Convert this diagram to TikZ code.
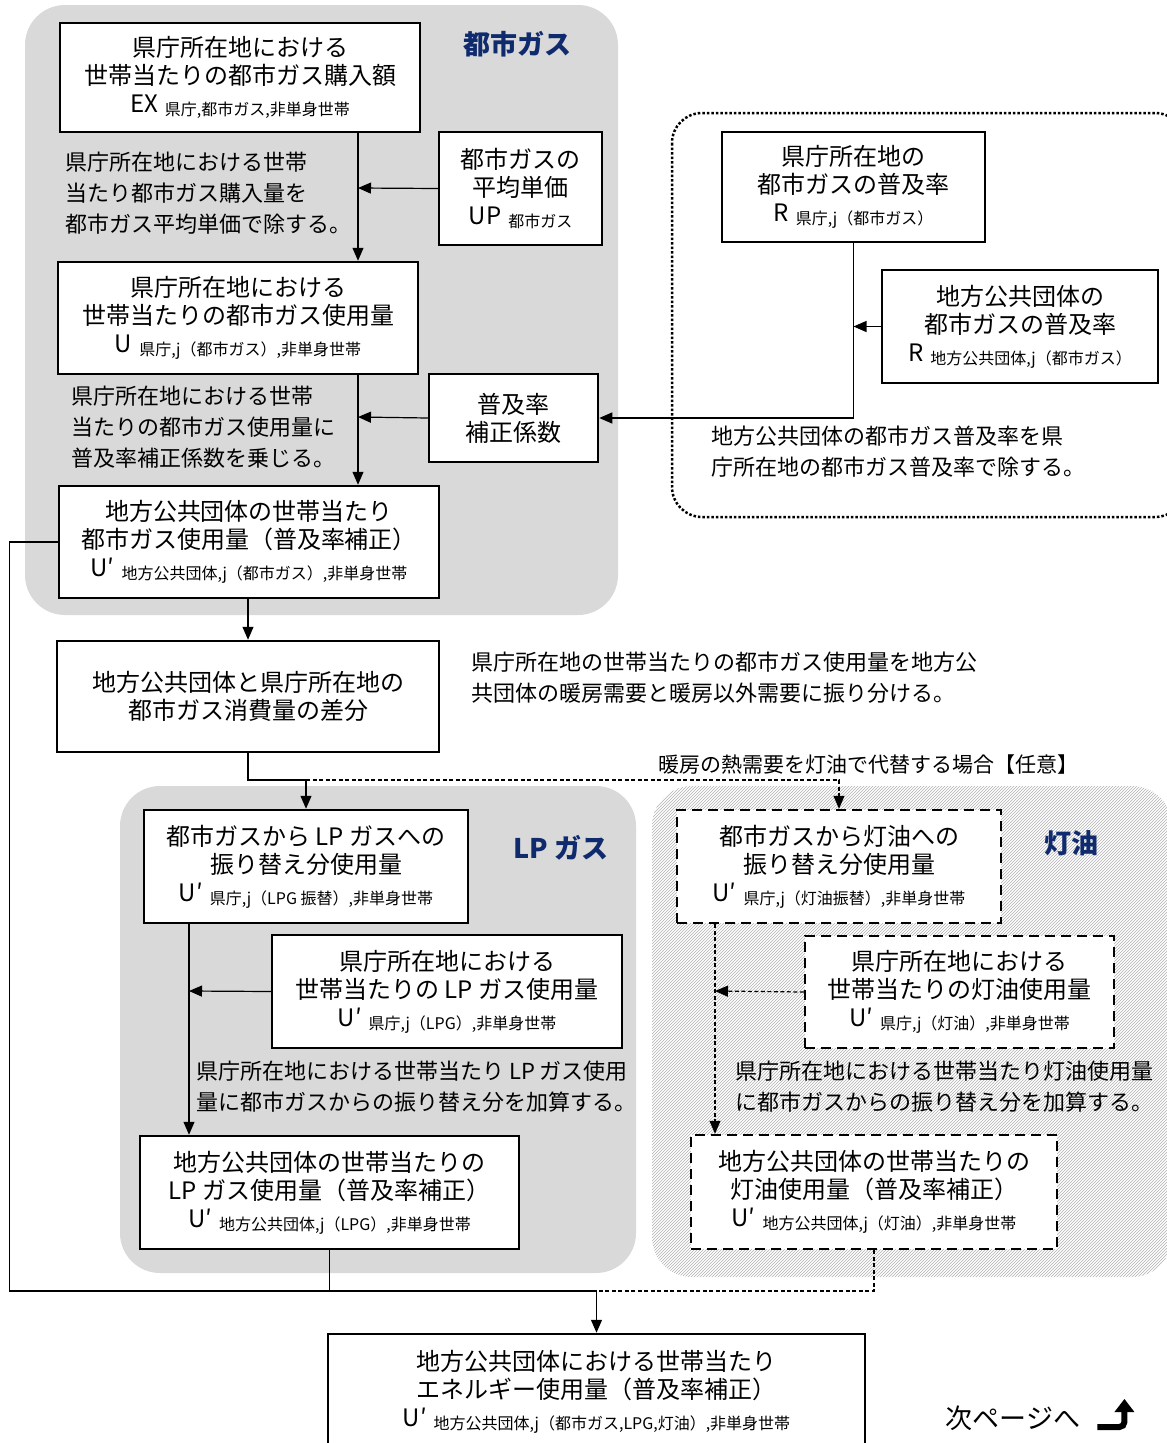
\documentclass[tikz,border=0pt]{standalone}
\usepackage{fontspec}
\setmainfont{Noto Sans CJK JP}
\usetikzlibrary{positioning}
\usetikzlibrary{arrows.meta}
\usetikzlibrary{patterns}
\definecolor{regiongray}{RGB}{217,217,217}
\definecolor{titleblue}{RGB}{16,42,110}
\newcommand{\symsub}[2]{#1\hspace{7pt}\raisebox{-3pt}{\fontsize{16}{16}\selectfont #2}}
\tikzset{
    boxn/.style = {draw=black, line width=2.5pt, fill=white, align=center, inner sep=0pt, font=\fontsize{24}{28}\selectfont},
    boxd/.style = {boxn, dash pattern=on 10pt off 6pt},
    notetxt/.style = {align=left, anchor=west, inner sep=0pt, font=\fontsize{22}{31}\selectfont},
    ttl/.style = {inner sep=0pt, text=titleblue, font=\fontsize{27}{30}\selectfont\bfseries},
    region/.style = {fill=regiongray, rounded corners=40pt},
    ln/.style = {-, line width=1.2pt, black},
    arr/.style = {ln, -{Triangle[length=13pt,width=11pt]}},
    dln/.style = {ln, dash pattern=on 4pt off 2.5pt},
    darr/.style = {arr, dash pattern=on 4pt off 2.5pt}
}
\begin{document}
\begin{tikzpicture}[x=1pt, y=-1pt]
  \useasboundingbox (0,0) rectangle (1167,1443);
  % regions
  \fill[region] (25,5) rectangle (618,615);
  \fill[region] (120,786) rectangle (636,1273);
  \path[rounded corners=40pt, fill=white, postaction={pattern=north east lines, pattern color=gray!60}] (652,786) rectangle (1172,1277);
  \draw[line width=2.5pt, dash pattern=on 2.5pt off 2pt, rounded corners=30pt] (672,113) rectangle (1185,517);
  \node[ttl] (tgas) at (517,44) {都市ガス};
  \node[ttl] (tlpg) at (561,848) {LP ガス};
  \node[ttl] (tker) at (1071,843) {灯油};

  % city gas
  \node[boxn, minimum width=360pt, minimum height=109pt] (A) at (240,77.5)
    {県庁所在地における\\世帯当たりの都市ガス購入額\\\symsub{EX}{県庁,都市ガス,非単身世帯}};
  \node[boxn, minimum width=163pt, minimum height=113pt] (UP) at (520.5,188.5)
    {都市ガスの\\平均単価\\\symsub{UP}{都市ガス}};
  \node[boxn, minimum width=360pt, minimum height=112pt] (U) at (238,318)
    {県庁所在地における\\世帯当たりの都市ガス使用量\\\symsub{U}{県庁,j（都市ガス）,非単身世帯}};
  \node[boxn, minimum width=169pt, minimum height=88pt] (FK) at (513.5,418)
    {普及率\\補正係数};
  \node[boxn, minimum width=380pt, minimum height=112pt] (Up) at (249,542)
    {地方公共団体の世帯当たり\\都市ガス使用量（普及率補正）\\\symsub{U′}{地方公共団体,j（都市ガス）,非単身世帯}};
  \node[notetxt] (n1) at (65,193.5) {県庁所在地における世帯\\当たり都市ガス購入量を\\都市ガス平均単価で除する。};
  \node[notetxt] (n2) at (71,427.5) {県庁所在地における世帯\\当たりの都市ガス使用量に\\普及率補正係数を乗じる。};

  % diffusion rate
  \node[boxn, minimum width=263pt, minimum height=110pt] (RK) at (853.5,187)
    {県庁所在地の\\都市ガスの普及率\\\symsub{R}{県庁,j（都市ガス）}};
  \node[boxn, minimum width=276pt, minimum height=113pt] (RC) at (1020,326.5)
    {地方公共団体の\\都市ガスの普及率\\\symsub{R}{地方公共団体,j（都市ガス）}};
  \node[notetxt] (n3) at (711,451.5) {地方公共団体の都市ガス普及率を県\\庁所在地の都市ガス普及率で除する。};

  \coordinate (j1) at (358,188);
  \coordinate (j2) at (358,417);
  \draw[arr] (A.south -| j1) -- (U.north -| j1);
  \draw[arr] (UP.west) -- (j1);
  \draw[arr] (U.south -| j2) -- (Up.north -| j2);
  \draw[arr] (FK.west) -- (j2);
  \draw[arr] (RK.south) |- (FK.east);
  \draw[arr] (RC.west) -- (RC.west -| RK.south);

  % difference
  \node[boxn, minimum width=382pt, minimum height=111pt] (Diff) at (248,696.5)
    {地方公共団体と県庁所在地の\\都市ガス消費量の差分};
  \node[notetxt] (n4) at (471,678) {県庁所在地の世帯当たりの都市ガス使用量を地方公\\共団体の暖房需要と暖房以外需要に振り分ける。};
  \draw[arr] (Up.south -| Diff.north) -- (Diff.north);

  % LP gas
  \node[boxn, minimum width=324pt, minimum height=113pt] (LPT) at (306,866.5)
    {都市ガスから LP ガスへの\\振り替え分使用量\\\symsub{U′}{県庁,j（LPG 振替）,非単身世帯}};
  \node[boxn, minimum width=350pt, minimum height=113pt] (LPK) at (447,991.5)
    {県庁所在地における\\世帯当たりの LP ガス使用量\\\symsub{U′}{県庁,j（LPG）,非単身世帯}};
  \node[boxn, minimum width=379pt, minimum height=113pt] (LPC) at (329.5,1192.5)
    {地方公共団体の世帯当たりの\\LP ガス使用量（普及率補正）\\\symsub{U′}{地方公共団体,j（LPG）,非単身世帯}};
  \node[notetxt] (n5) at (196,1086.5) {県庁所在地における世帯当たり LP ガス使用\\量に都市ガスからの振り替え分を加算する。};

  % kerosene
  \node[boxd, minimum width=324pt, minimum height=113pt] (KT) at (839,866.5)
    {都市ガスから灯油への\\振り替え分使用量\\\symsub{U′}{県庁,j（灯油振替）,非単身世帯}};
  \node[boxd, minimum width=309pt, minimum height=112pt] (KK) at (959.5,992)
    {県庁所在地における\\世帯当たりの灯油使用量\\\symsub{U′}{県庁,j（灯油）,非単身世帯}};
  \node[boxd, minimum width=366pt, minimum height=114pt] (KC) at (874,1192)
    {地方公共団体の世帯当たりの\\灯油使用量（普及率補正）\\\symsub{U′}{地方公共団体,j（灯油）,非単身世帯}};
  \node[notetxt] (n6) at (735,1086.5) {県庁所在地における世帯当たり灯油使用量\\に都市ガスからの振り替え分を加算する。};

  \coordinate (j3) at (306,780);
  \coordinate (j4) at (189,991);
  \coordinate (j5) at (715,991);
  \draw[ln] (Diff.south) |- (j3);
  \draw[arr] (j3) -- (LPT.north);
  \draw[darr] (j3) -| (KT.north);
  \node[inner sep=0pt, font=\fontsize{21}{24}\selectfont] (opt) at (868,765) {暖房の熱需要を灯油で代替する場合【任意】};
  \draw[arr] (LPT.south -| j4) -- (LPC.north -| j4);
  \draw[arr] (LPK.west) -- (j4);
  \draw[darr] (KT.south -| j5) -- (KC.north -| j5);
  \draw[darr] (KK.west) -- (j5);

  % total
  \node[boxn, minimum width=537pt, minimum height=116pt] (Fin) at (596.5,1392)
    {地方公共団体における世帯当たり\\エネルギー使用量（普及率補正）\\\symsub{U′}{地方公共団体,j（都市ガス,LPG,灯油）,非単身世帯}};
  \coordinate (j6) at (596.5,1291);
  \draw[ln] (Up.west) -- ++(-48,0) |- (j6);
  \draw[ln] (LPC.south) |- (j6);
  \draw[dln] (KC.south) |- (j6);
  \draw[arr] (j6) -- (Fin.north);

  \node[inner sep=0pt, font=\fontsize{27}{30}\selectfont] (nxt) at (1013,1418) {次ページへ};
  \draw[line width=6pt, rounded corners=5pt] ([xshift=17pt,yshift=-9pt]nxt.east) -| ([xshift=44pt,yshift=7pt]nxt.east);
  \fill ([xshift=34pt,yshift=6pt]nxt.east) -- ([xshift=44pt,yshift=19pt]nxt.east) -- ([xshift=54pt,yshift=6pt]nxt.east) -- cycle;
\end{tikzpicture}
\end{document}
